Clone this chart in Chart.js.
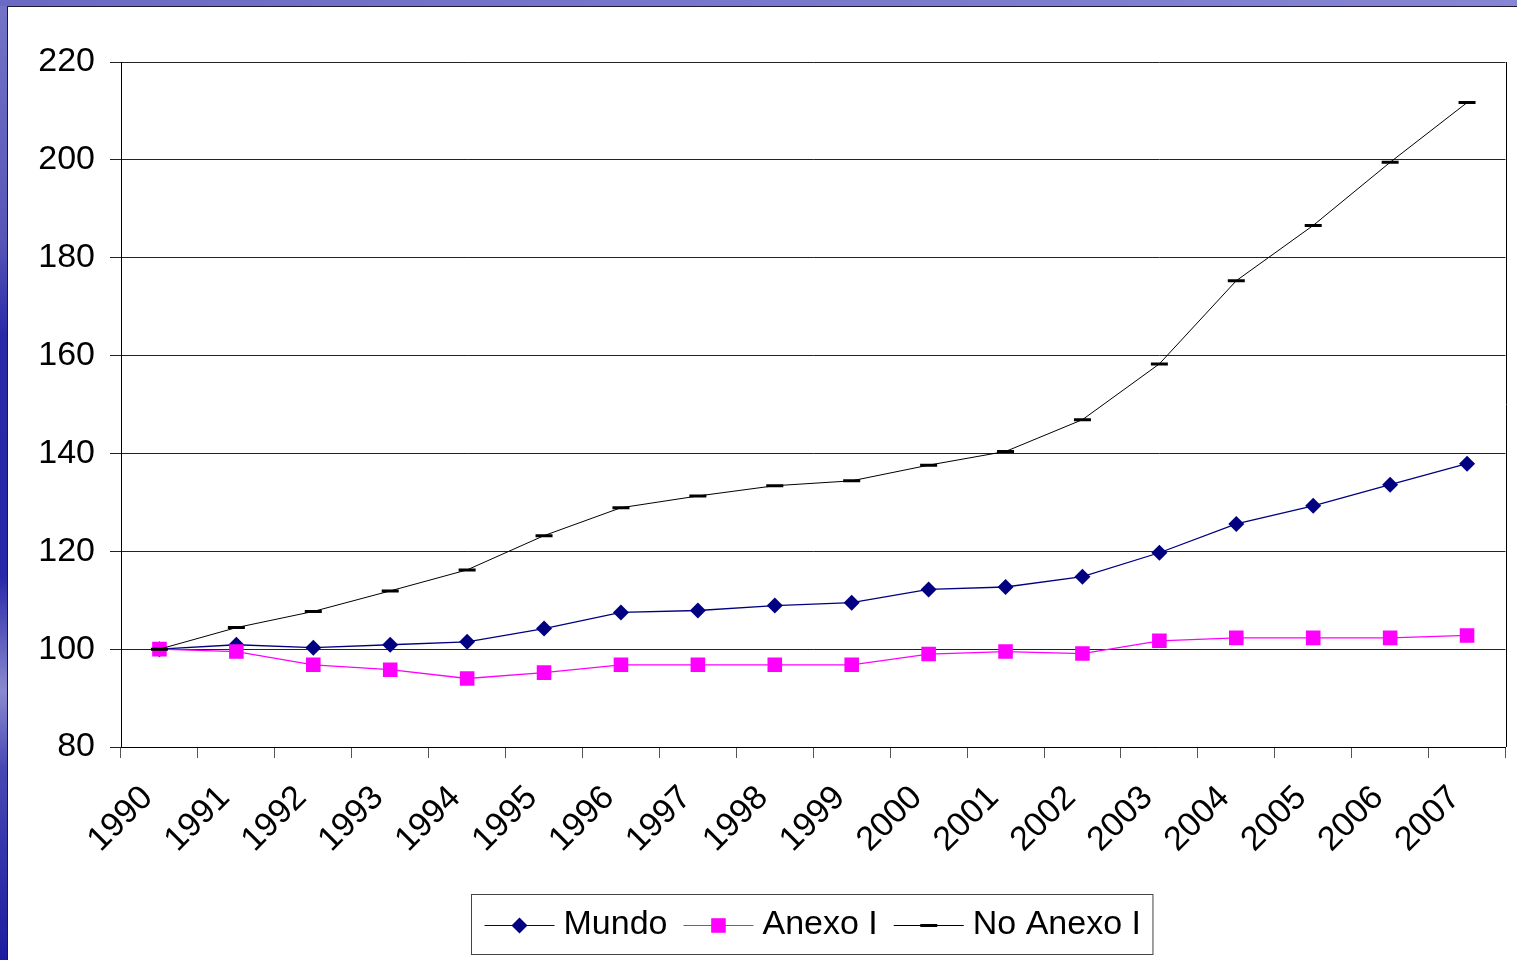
<!DOCTYPE html>
<html>
<head>
<meta charset="utf-8">
<script src="https://cdn.jsdelivr.net/npm/chart.js@4.4.0/dist/chart.umd.min.js"></script>
<style>
  html, body { margin: 0; padding: 0; background: #fff; overflow: hidden; }
  #chart { display: block; }
</style>
</head>
<body>
<canvas id="chart" width="1517" height="960"></canvas>
<script>
// indices de emisiones, 1990 = 100
const years = ['1990', '1991', '1992', '1993', '1994', '1995', '1996', '1997', '1998',
  '1999', '2000', '2001', '2002', '2003', '2004', '2005', '2006', '2007'];
const mundo = [100, 100.9, 100.3, 100.9, 101.5, 104.2, 107.5, 107.9, 108.9,
  109.5, 112.2, 112.7, 114.8, 119.7, 125.6, 129.3, 133.6, 137.9];
const anexoI = [100, 99.5, 96.8, 95.8, 94.0, 95.2, 96.8, 96.8, 96.8,
  96.8, 99.0, 99.5, 99.1, 101.7, 102.3, 102.3, 102.3, 102.8];
const noAnexoI = [100, 104.4, 107.7, 111.9, 116.2, 123.2, 128.9, 131.3, 133.4,
  134.4, 137.6, 140.4, 146.9, 158.3, 175.3, 186.6, 199.5, 211.7];
const yMin = 80, yMax = 220, yStep = 20;

const FONT = "'Liberation Sans', Arial, sans-serif";

// fondo de la diapositiva: franjas azules arriba e izquierda
const slideFrame = {
  id: 'slideFrame',
  beforeDraw(chart) {
    const ctx = chart.ctx;
    const w = chart.width, h = chart.height;
    ctx.save();
    ctx.fillStyle = '#fff';
    ctx.fillRect(0, 0, w, h);
    const gl = ctx.createLinearGradient(0, 0, 0, h);
    gl.addColorStop(0, '#7474c8');
    gl.addColorStop(0.25, '#5656b8');
    gl.addColorStop(0.35, '#2a2aa8');
    gl.addColorStop(0.6, '#2828a8');
    gl.addColorStop(0.72, '#8a8ad0');
    gl.addColorStop(0.8, '#4848b4');
    gl.addColorStop(1, '#1c1ca0');
    ctx.fillStyle = gl;
    ctx.fillRect(0, 0, 7, h);
    const gt = ctx.createLinearGradient(0, 0, w, 0);
    gt.addColorStop(0, '#6a6ac4');
    gt.addColorStop(1, '#8686d4');
    ctx.fillStyle = gt;
    ctx.fillRect(0, 0, w, 6);
    ctx.fillStyle = '#1a1a30';
    ctx.fillRect(7, 6, 1, h - 6);
    ctx.fillRect(7, 6, w - 7, 1);
    ctx.restore();
  },
  afterDatasetsDraw(chart) {
    // borde derecho del área de trazado
    const a = chart.chartArea;
    const ctx = chart.ctx;
    ctx.save();
    ctx.strokeStyle = '#000';
    ctx.lineWidth = 1;
    ctx.beginPath();
    ctx.moveTo(Math.round(a.right) + 0.5, a.top);
    ctx.lineTo(Math.round(a.right) + 0.5, a.bottom);
    ctx.stroke();
    ctx.restore();
  }
};

function drawMarker(ctx, ds, x, y) {
  ctx.save();
  ctx.fillStyle = ds.pointBackgroundColor;
  ctx.strokeStyle = ds.pointBorderColor;
  if (ds.pointStyle === 'rectRot') {
    const r = ds.pointRadius;
    ctx.beginPath();
    ctx.moveTo(x, y - r); ctx.lineTo(x + r, y); ctx.lineTo(x, y + r); ctx.lineTo(x - r, y);
    ctx.closePath(); ctx.fill();
  } else if (ds.pointStyle === 'rect') {
    const s = ds.pointRadius * Math.SQRT1_2;
    ctx.fillRect(x - s, y - s, 2 * s, 2 * s);
  } else if (ds.pointStyle === 'line') {
    ctx.lineWidth = ds.pointBorderWidth;
    ctx.beginPath();
    ctx.moveTo(x - ds.pointRadius, y); ctx.lineTo(x + ds.pointRadius, y);
    ctx.stroke();
  }
  ctx.restore();
}

// leyenda con recuadro, dibujada abajo
const boxLegend = {
  id: 'boxLegend',
  afterDraw(chart) {
    const ctx = chart.ctx;
    const a = chart.chartArea;
    const dsets = chart.data.datasets;
    const sample = 70, gapText = 9, gapItem = 16, padL = 13, padR = 12;
    ctx.save();
    ctx.font = '34px ' + FONT;
    const widths = dsets.map(d => ctx.measureText(d.label).width);
    let total = padL + padR;
    widths.forEach((tw, i) => { total += sample + gapText + tw + (i < widths.length - 1 ? gapItem : 0); });
    const cx = (a.left + a.right) / 2 - 2;
    const bx = Math.round(cx - total / 2) + 0.5;
    const by = 894.5, bh = 60;
    ctx.strokeStyle = '#444';
    ctx.lineWidth = 1;
    ctx.strokeRect(bx, by, total, bh);
    const cy = by + bh / 2;
    let x = bx + padL;
    dsets.forEach((d, i) => {
      ctx.strokeStyle = d.borderColor;
      ctx.lineWidth = 1;
      ctx.beginPath();
      ctx.moveTo(x, Math.round(cy) + 0.5); ctx.lineTo(x + sample, Math.round(cy) + 0.5);
      ctx.stroke();
      drawMarker(ctx, d, x + sample / 2, Math.round(cy) + 0.5);
      ctx.fillStyle = '#000';
      ctx.textBaseline = 'middle';
      ctx.textAlign = 'left';
      ctx.fillText(d.label, x + sample + gapText, cy);
      x += sample + gapText + widths[i] + gapItem;
    });
    ctx.restore();
  }
};

new Chart(document.getElementById('chart'), {
  type: 'line',
  data: {
    labels: years,
    datasets: [
      {
        label: 'Mundo', data: mundo, order: 2,
        borderColor: '#000080', backgroundColor: '#000080', borderWidth: 1.3,
        pointStyle: 'rectRot', pointRadius: 8, pointBorderWidth: 0,
        pointBackgroundColor: '#000080', pointBorderColor: '#000080'
      },
      {
        label: 'Anexo I', data: anexoI, order: 1,
        borderColor: '#ff00ff', backgroundColor: '#ff00ff', borderWidth: 1.3,
        pointStyle: 'rect', pointRadius: 10.3, pointBorderWidth: 0,
        pointBackgroundColor: '#ff00ff', pointBorderColor: '#ff00ff'
      },
      {
        label: 'No Anexo I', data: noAnexoI, order: 0,
        borderColor: '#000', backgroundColor: '#000', borderWidth: 1,
        pointStyle: 'line', pointRadius: 8.5, pointBorderWidth: 3,
        pointBackgroundColor: '#000', pointBorderColor: '#000'
      }
    ]
  },
  options: {
    responsive: false,
    animation: false,
    layout: { padding: { left: 8, top: 62, right: 11, bottom: 0 } },
    plugins: {
      legend: { display: false },
      tooltip: { enabled: false }
    },
    elements: { line: { tension: 0 } },
    scales: {
      x: {
        offset: true,
        grid: { offset: true, drawOnChartArea: false, drawTicks: true, tickLength: 11, color: '#555' },
        border: { color: '#000', width: 1 },
        ticks: {
          autoSkip: false, minRotation: 45, maxRotation: 45, padding: 20, labelOffset: -12,
          color: '#000', font: { family: FONT, size: 34 }
        },
        afterFit(s) { s.height = 213; }
      },
      y: {
        min: yMin, max: yMax,
        grid: { color: '#222', tickLength: 11, lineWidth: 1 },
        border: { color: '#000', width: 1 },
        ticks: {
          stepSize: yStep, padding: 15,
          color: '#000', font: { family: FONT, size: 34 }
        },
        afterFit(s) { s.width = 113; }
      }
    }
  },
  plugins: [slideFrame, boxLegend]
});
</script>
</body>
</html>
